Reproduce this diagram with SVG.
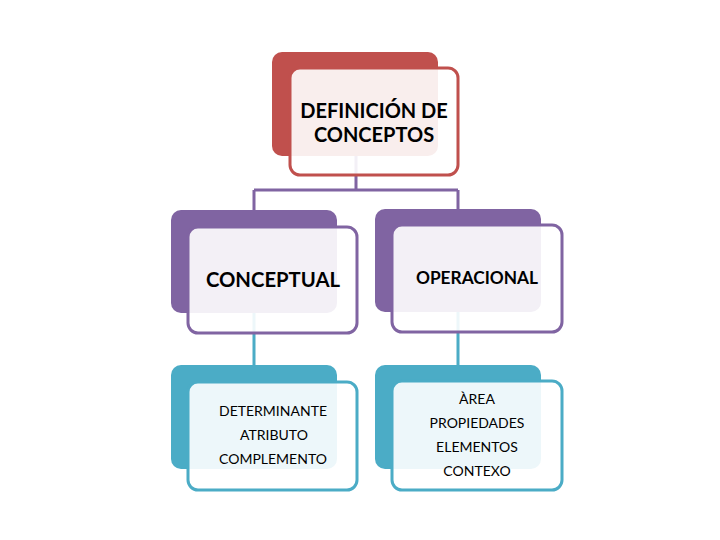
<svg xmlns="http://www.w3.org/2000/svg" width="720" height="540" viewBox="0 0 720 540">
<style>
text{font-family:Lato,"Liberation Sans",Arial,sans-serif;fill:#000;text-anchor:middle}
.front{fill:#fff;fill-opacity:0.9;stroke-width:3}
.red .back{fill:#C0504D}.red .front{stroke:#C0504D}
.pur .back{fill:#8064A2}.pur .front{stroke:#8064A2}
.tea .back{fill:#4BACC6}.tea .front{stroke:#4BACC6}
.c{fill:none;stroke-width:3}
.h{font-size:20px;font-weight:bold}.m{font-size:14px}
</style>
<rect width="720" height="540" fill="#fff"/>
<g id="connectors">
<path class="c" stroke="#8064A2" d="M356 156V190M254 190H458M254 190V211M458 190V210"/>
<path class="c" stroke="#4BACC6" d="M254 313V366M458 312V366"/>
</g>
<g id="definicion" class="red">
<rect class="back" x="272" y="52" width="166" height="104" rx="10"/>
<rect class="front" x="290" y="68" width="168" height="107" rx="10"/>
<text class="h" x="374" y="118">DEFINICIÓN DE</text>
<text class="h" x="374" y="142">CONCEPTOS</text>
</g>
<g id="conceptual" class="pur">
<rect class="back" x="171" y="210" width="166" height="103" rx="10"/>
<rect class="front" x="188" y="227" width="169" height="106" rx="10"/>
<text x="273" y="287" style="font-size:20.3px;font-weight:bold">CONCEPTUAL</text>
</g>
<g id="operacional" class="pur">
<rect class="back" x="375" y="209" width="166" height="103" rx="10"/>
<rect class="front" x="392" y="225" width="170" height="107" rx="10"/>
<text x="477" y="284" style="font-size:17.3px;font-weight:bold">OPERACIONAL</text>
</g>
<g id="determinante" class="tea">
<rect class="back" x="171" y="365" width="166" height="104" rx="10"/>
<rect class="front" x="188" y="382" width="169" height="108" rx="10"/>
<text class="m" x="273" y="416">DETERMINANTE</text>
<text class="m" x="274" y="440">ATRIBUTO</text>
<text class="m" x="273" y="464">COMPLEMENTO</text>
</g>
<g id="area" class="tea">
<rect class="back" x="375" y="365" width="166" height="104" rx="10"/>
<rect class="front" x="392" y="381" width="170" height="109" rx="10"/>
<text class="m" x="477" y="404">ÀREA</text>
<text class="m" x="477" y="428">PROPIEDADES</text>
<text class="m" x="477" y="452">ELEMENTOS</text>
<text class="m" x="477" y="476">CONTEXO</text>
</g>
</svg>
